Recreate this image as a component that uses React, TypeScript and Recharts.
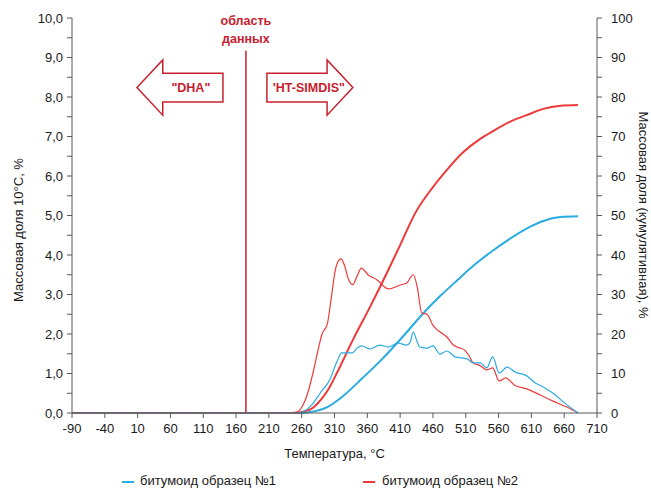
import React from "react";
import {
  LineChart,
  Line,
  XAxis,
  YAxis,
  ReferenceLine,
  ReferenceArea,
  Label,
} from "recharts";

// температура, °C — общие засечки оси X
const xTicks = [-90, -40, 10, 60, 110, 160, 210, 260, 310, 360, 410, 460, 510, 560, 610, 660, 710];
const leftTicks = [0, 0.5, 1, 1.5, 2, 2.5, 3, 3.5, 4, 4.5, 5, 5.5, 6, 6.5, 7, 7.5, 8, 8.5, 9, 9.5, 10];
const rightTicks = [0, 5, 10, 15, 20, 25, 30, 35, 40, 45, 50, 55, 60, 65, 70, 75, 80, 85, 90, 95, 100];

// образец №1 — массовая доля на 10°C (левая ось)
const diff1T = [-90, 255, 262, 275, 288, 303, 313, 321, 337, 345, 352, 364, 379, 392, 407, 420, 425, 430, 435, 440, 451, 460, 471, 481, 494, 512, 521, 532, 542, 551, 561, 573, 585, 603, 616, 628, 643, 661, 681];
const diff1V = [0, 0, 0.03, 0.2, 0.5, 0.85, 1.27, 1.52, 1.52, 1.65, 1.7, 1.62, 1.72, 1.67, 1.77, 1.72, 1.78, 2.05, 1.85, 1.67, 1.64, 1.7, 1.49, 1.57, 1.42, 1.37, 1.27, 1.27, 1.14, 1.42, 1.01, 1.16, 1.04, 0.94, 0.76, 0.66, 0.5, 0.25, 0];

// образец №2 — массовая доля на 10°C (левая ось)
const diff2T = [-90, 240, 252, 262, 270, 277, 285, 291, 299, 305, 311, 316, 320, 325, 331, 338, 344, 351, 361, 375, 392, 410, 420, 430, 436, 443, 451, 460, 471, 481, 491, 500, 509, 515, 521, 532, 542, 551, 561, 571, 584, 603, 623, 643, 664, 681];
const diff2V = [0, 0, 0.02, 0.2, 0.55, 1.0, 1.6, 2.0, 2.25, 2.9, 3.6, 3.85, 3.9, 3.75, 3.4, 3.25, 3.45, 3.67, 3.5, 3.37, 3.14, 3.24, 3.29, 3.5, 3.2, 2.53, 2.5, 2.22, 2.05, 1.93, 1.72, 1.65, 1.58, 1.45, 1.27, 1.2, 1.09, 1.14, 0.81, 0.89, 0.71, 0.61, 0.46, 0.3, 0.15, 0];

// кумулятивная доля, % (правая ось)
const cum1T = [-90, 258, 275, 299, 321, 353, 384, 414, 445, 471, 497, 521, 552, 580, 604, 628, 654, 681];
const cum1V = [0, 0, 0.3, 1.5, 4, 8.9, 13.9, 19.3, 25.2, 29.6, 33.6, 37.2, 41.2, 44.4, 46.8, 48.6, 49.6, 49.8];

const cum2T = [-90, 250, 262, 277, 290, 300, 318, 338, 364, 390, 410, 433, 460, 481, 506, 532, 552, 577, 603, 628, 654, 681];
const cum2V = [0, 0, 0.3, 1.3, 3.5, 5.8, 11.6, 18.5, 26.8, 35.5, 42.5, 50.6, 57.2, 61.5, 66, 69.4, 71.4, 73.7, 75.4, 77, 77.8, 78];

const legendNames = ["битумоид образец №1", "битумоид образец №2"];

const BLUE = "#2aabe2";
const RED = "#ee3a3a";
const ANN = "#c8202f";
const AXIS = "#595959";
const FONT = "'Liberation Sans', Arial, sans-serif";

const toPoints = (t: number[], v: number[]) => t.map((x, i) => ({ t: x, v: v[i] }));

const diff1 = toPoints(diff1T, diff1V);
const diff2 = toPoints(diff2T, diff2V);
const cum1 = toPoints(cum1T, cum1V);
const cum2 = toPoints(cum2T, cum2V);

// стрелка-подпись, рисуется внутри ReferenceArea
const Arrow = ({ x, y, width, height, dir, text }: any) => {
  const head = width * 0.3;
  const inset = height * 0.24;
  let pts: number[][];
  if (dir === "left") {
    pts = [
      [x, y + height / 2],
      [x + head, y],
      [x + head, y + inset],
      [x + width, y + inset],
      [x + width, y + height - inset],
      [x + head, y + height - inset],
      [x + head, y + height],
    ];
  } else {
    pts = [
      [x + width, y + height / 2],
      [x + width - head, y],
      [x + width - head, y + inset],
      [x, y + inset],
      [x, y + height - inset],
      [x + width - head, y + height - inset],
      [x + width - head, y + height],
    ];
  }
  const cx = dir === "left" ? x + head + (width - head) / 2 - 2 : x + width / 2 - 1;
  return (
    <g>
      <polygon points={pts.map((p) => p.join(",")).join(" ")} fill="#fff" stroke={ANN} strokeWidth={1.5} />
      <text x={cx} y={y + height / 2 + 4.5} textAnchor="middle" fill={ANN} fontSize={12.5} fontWeight="bold" fontFamily={FONT}>
        {text}
      </text>
    </g>
  );
};

const AreaTitle = ({ x, y, width }: any) => (
  <g>
    <text x={x + width / 2} y={y + 7} textAnchor="middle" fill={ANN} fontSize={12.5} fontWeight="bold" fontFamily={FONT}>
      область
    </text>
    <text x={x + width / 2} y={y + 25} textAnchor="middle" fill={ANN} fontSize={12.5} fontWeight="bold" fontFamily={FONT}>
      данных
    </text>
  </g>
);

export default function App() {
  return (
    <div style={{ position: "absolute", left: 0, top: 0, width: 651, height: 488, background: "#fff" }}>
      <LineChart width={651} height={488} margin={{ top: 18, right: 0, bottom: 25, left: 8 }}>
        <XAxis
          dataKey="t"
          type="number"
          domain={[-90, 710]}
          ticks={xTicks}
          interval={0}
          allowDataOverflow
          height={50}
          stroke={AXIS}
          tickSize={5}
          tickMargin={6}
          tick={{ fill: "#1a1a1a", fontSize: 13, fontFamily: FONT }}
        >
          <Label
            content={({ viewBox }: any) => (
              <text x={viewBox.x + viewBox.width / 2} y={viewBox.y + 45} textAnchor="middle" fill="#1a1a1a" fontSize={13} fontFamily={FONT}>
                Температура, °C
              </text>
            )}
          />
        </XAxis>
        <YAxis
          yAxisId="left"
          domain={[0, 10]}
          ticks={leftTicks}
          interval={0}
          width={64}
          stroke={AXIS}
          tickSize={5}
          tickMargin={4}
          tickFormatter={(v: number) => (Number.isInteger(v) ? v.toFixed(1).replace(".", ",") : "")}
          tick={{ fill: "#1a1a1a", fontSize: 13, fontFamily: FONT }}
        >
          <Label
            content={({ viewBox }: any) => {
              const cx = viewBox.x + 10;
              const cy = 230;
              return (
                <text x={cx} y={cy} transform={`rotate(-90 ${cx} ${cy})`} textAnchor="middle" dominantBaseline="central" fill="#1a1a1a" fontSize={13} fontFamily={FONT}>
                  Массовая доля 10°С, %
                </text>
              );
            }}
          />
        </YAxis>
        <YAxis
          yAxisId="right"
          orientation="right"
          domain={[0, 100]}
          ticks={rightTicks}
          interval={0}
          width={54}
          stroke={AXIS}
          tickSize={5}
          tickMargin={9}
          tickFormatter={(v: number) => (v % 10 === 0 ? String(v) : "")}
          tick={{ fill: "#1a1a1a", fontSize: 13, fontFamily: FONT }}
        >
          <Label
            content={({ viewBox }: any) => {
              const cx = viewBox.x + 46;
              const cy = 215;
              return (
                <text x={cx} y={cy} transform={`rotate(90 ${cx} ${cy})`} textAnchor="middle" dominantBaseline="central" fill="#1a1a1a" fontSize={13} fontFamily={FONT}>
                  Массовая доля (кумулятивная), %
                </text>
              );
            }}
          />
        </YAxis>

        <ReferenceLine
          yAxisId="left"
          segment={[{ x: 175, y: 0 }, { x: 175, y: 9.17 }]}
          stroke={ANN}
          strokeWidth={1.5}
        />
        <ReferenceArea yAxisId="left" x1={160} x2={190} y1={9.6} y2={10} fill="none" stroke="none" shape={(p: any) => <AreaTitle {...p} />} />
        <ReferenceArea yAxisId="left" x1={9} x2={140} y1={7.54} y2={8.94} shape={(p: any) => <Arrow {...p} dir="left" text={'"DHA"'} />} />
        <ReferenceArea yAxisId="left" x1={207} x2={338} y1={7.54} y2={8.94} shape={(p: any) => <Arrow {...p} dir="right" text={"'HT-SIMDIS\""} />} />

        <Line yAxisId="right" data={cum1} dataKey="v" type="monotone" stroke={BLUE} strokeWidth={2} dot={false} isAnimationActive={false} />
        <Line yAxisId="right" data={cum2} dataKey="v" type="monotone" stroke={RED} strokeWidth={2} dot={false} isAnimationActive={false} />
        <Line yAxisId="left" data={diff2} dataKey="v" type="monotone" stroke={RED} strokeWidth={1.2} dot={false} isAnimationActive={false} />
        <Line yAxisId="left" data={diff1} dataKey="v" type="monotone" stroke={BLUE} strokeWidth={1.2} dot={false} isAnimationActive={false} />
      </LineChart>

      <div style={{ position: "absolute", top: 472, left: 0, width: 651, fontFamily: FONT, fontSize: 13, color: "#1a1a1a" }}>
        <div style={{ position: "absolute", left: 122, top: 9, width: 12, height: 1.5, background: BLUE }} />
        <div style={{ position: "absolute", left: 140, top: 1, whiteSpace: "nowrap" }}>{legendNames[0]}</div>
        <div style={{ position: "absolute", left: 363, top: 9, width: 12, height: 1.5, background: RED }} />
        <div style={{ position: "absolute", left: 382, top: 1, whiteSpace: "nowrap" }}>{legendNames[1]}</div>
      </div>
    </div>
  );
}
